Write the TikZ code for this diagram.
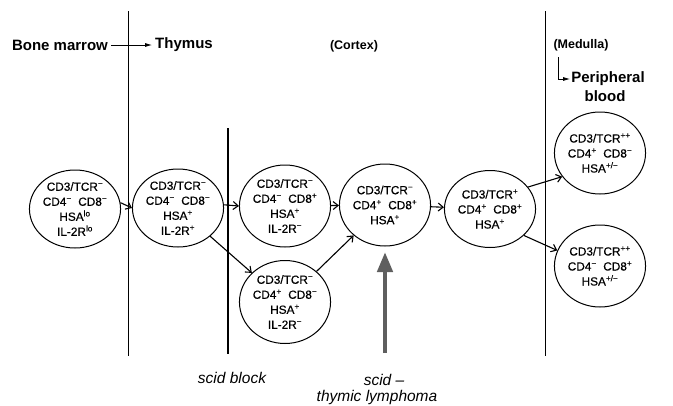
\documentclass[tikz,border=0pt]{standalone}
\usepackage{fontspec}
\setmainfont{Liberation Sans}
\newfontfamily\cellfont[FakeBold=0.5]{Liberation Sans}
\usetikzlibrary{shapes.geometric,arrows.meta}
\newcommand{\spp}[1]{\textsuperscript{#1}}
\begin{document}
\begin{tikzpicture}[x=1pt,y=-1pt,
  cell/.style={ellipse,draw,line width=1pt,inner sep=0pt,align=center,
    font=\cellfont\fontsize{11.8}{15}\selectfont},
  flow/.style={-{Straight Barb[length=5pt,width=8pt]},line width=1.1pt},
  hdr/.style={font=\fontsize{15}{16}\selectfont\bfseries,inner sep=1pt},
  sub/.style={font=\fontsize{12.5}{14}\selectfont\bfseries,inner sep=1pt},
  lab/.style={font=\fontsize{15.5}{17}\selectfont\itshape,inner sep=1pt},
  divider/.style={line width=0.7pt},
  thin tip/.style={-{Latex[length=7pt,width=4pt]},line width=0.8pt},
  block/.style={line width=2.8pt},
  lymph/.style={line width=4.5pt,draw={rgb,255:red,95;green,95;blue,95},
    -{Triangle[length=20pt,width=15pt]}},
]
\useasboundingbox (0,0) rectangle (673,405);

% headers
\node[hdr] (bm) at (60,45) {Bone marrow};
\node[hdr] (th) at (184,45) {Thymus};
\node[sub] (cx) at (354,46) {(Cortex)};
\node[sub] (md) at (581,45) {(Medulla)};
\node[hdr] (peri) at (608,79) {Peripheral};
\node[hdr] (blood) at (605,96) {blood};
\draw[thin tip,shorten <=2pt,shorten >=2pt] (bm.east) -- (th.west);
\coordinate (elb) at (558,57);
\draw[thin tip] (elb) |- (peri.west);

% dividers
\coordinate (d1t) at (128,11);
\coordinate (d1b) at (128,356);
\coordinate (d2t) at (545,11);
\coordinate (d2b) at (545,356);
\draw[divider] (d1t) -- (d1b);
\draw[divider] (d2t) -- (d2b);

% scid block
\coordinate (sbt) at (228,128);
\coordinate (sbb) at (228,354);
\draw[block] (sbt) -- (sbb);

% cells
\node[cell,minimum width=84pt,minimum height=78pt] (n1) at (75,209)
  {CD3/TCR\spp{−}\\CD4\spp{−}\ \ CD8\spp{−}\\HSA\spp{lo}\\IL-2R\spp{lo}};
\node[cell,minimum width=84pt,minimum height=78pt] (n2) at (178,208)
  {CD3/TCR\spp{−}\\CD4\spp{−}\ \ CD8\spp{−}\\HSA\spp{+}\\IL-2R\spp{+}};
\node[cell,minimum width=84pt,minimum height=82pt] (n3) at (285,206)
  {CD3/TCR\spp{−}\\CD4\spp{−}\ \ CD8\spp{+}\\HSA\spp{+}\\IL-2R\spp{−}};
\node[cell,minimum width=85pt,minimum height=83pt] (n4) at (285,302)
  {CD3/TCR\spp{−}\\CD4\spp{+}\ \ CD8\spp{−}\\HSA\spp{+}\\IL-2R\spp{−}};
\node[cell,minimum width=84pt,minimum height=82pt] (n5) at (385,205)
  {CD3/TCR\spp{−}\\CD4\spp{+}\ \ CD8\spp{+}\\HSA\spp{+}};
\node[cell,minimum width=85pt,minimum height=77pt] (n6) at (490,209)
  {CD3/TCR\spp{+}\\CD4\spp{+}\ \ CD8\spp{+}\\HSA\spp{+}};
\node[cell,minimum width=86pt,minimum height=82pt] (n7) at (600,153)
  {CD3/TCR\spp{++}\\CD4\spp{+}\ \ CD8\spp{−}\\HSA\spp{+/−}};
\node[cell,minimum width=84pt,minimum height=82pt] (n8) at (600,266)
  {CD3/TCR\spp{++}\\CD4\spp{−}\ \ CD8\spp{+}\\HSA\spp{+/−}};

% connectors
\draw[flow] (n1.8) -- (n2.west);
\draw[flow] (n2.4) -- (n3.west);
\draw[flow] (n2) -- (n4);
\draw[flow] (n3) -- (n5);
\draw[flow] (n4) -- (n5);
\draw[flow] (n5) -- (n6);
\draw[flow] (n6.30) -- (n7.212);
\draw[flow] (n6.-38) -- (n8.160);

% lymphoma arrow
\coordinate (lb) at (385,353);
\coordinate (lt) at (385,252);
\draw[lymph] (lb) -- (lt);

% labels
\node[lab] (sbl) at (232,378) {scid block};
\node[lab] (ly1) at (384,380) {scid –};
\node[lab] (ly2) at (377,397) {thymic lymphoma};
\end{tikzpicture}
\end{document}
